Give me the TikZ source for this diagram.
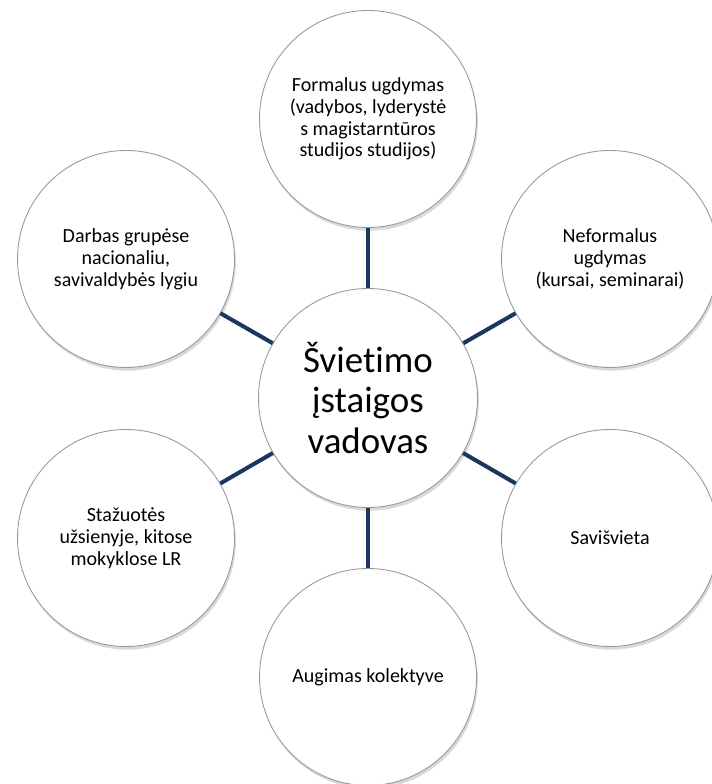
\documentclass[tikz,border=0pt]{standalone}
\usepackage{fontspec}
\setmainfont{Carlito}[Ligatures=NoCommon]
\usetikzlibrary{shadows}
\definecolor{navy}{RGB}{25,55,95}

\begin{document}
\begin{tikzpicture}[
    leaf/.style={circle, draw=gray!80, line width=0.5pt, fill=white, inner sep=0pt, minimum size=4.34cm,
      align=center, font=\fontsize{11.4}{12.4}\selectfont,
      drop shadow={shadow xshift=0.8pt, shadow yshift=-1.8pt, opacity=0.3}},
    hub/.style={leaf, minimum size=4.38cm, font=\fontsize{21}{22.9}\selectfont},
    link/.style={navy, line width=2.3pt}
  ]
    \useasboundingbox (0,0) rectangle (14.24,15.68);

    \node[hub] (0) at (7.36,7.72) {Švietimo\\įstaigos\\vadovas};
    \node[leaf] (1) at (7.36,13.3) {Formalus ugdymas\\(vadybos, lyderystė\\s magistarntūros\\studijos studijos)};
    \node[leaf] (2) at (12.2,10.5) {Neformalus\\ugdymas\\(kursai, seminarai)};
    \node[leaf] (3) at (12.2,4.92) {Savišvieta};
    \node[leaf] (4) at (7.36,2.14) {Augimas kolektyve};
    \node[leaf] (5) at (2.52,4.92) {Stažuotės\\užsienyje, kitose\\mokyklose LR};
    \node[leaf] (6) at (2.52,10.5) {Darbas grupėse\\nacionaliu,\\savivaldybės lygiu};

    \draw[link] (0) -- (1);
    \draw[link] (0) -- (2);
    \draw[link] (0) -- (3);
    \draw[link] (0) -- (4);
    \draw[link] (0) -- (5);
    \draw[link] (0) -- (6);
  \end{tikzpicture}
\end{document}
